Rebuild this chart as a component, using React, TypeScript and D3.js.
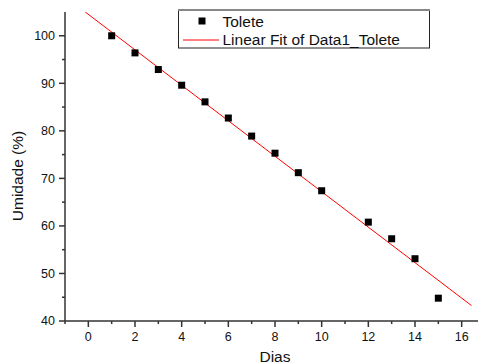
import * as d3 from "d3";

const W = 479;
const H = 364;
const MARGIN = { top: 12, right: 1, bottom: 43, left: 65 };

// Tolete drying data
const dias = [1, 2, 3, 4, 5, 6, 7, 8, 9, 10, 12, 13, 14, 15];
const umidade = [100, 96.4, 92.9, 89.6, 86.1, 82.7, 78.9, 75.3, 71.2, 67.4, 60.8, 57.3, 53.1, 44.8];

// Linear fit
const FIT_INTERCEPT = 104.5;
const FIT_SLOPE = -3.73;
const FIT_RANGE = [-0.13, 16.42];

const xMajor = [0, 2, 4, 6, 8, 10, 12, 14, 16];
const xMinor = [-1, 1, 3, 5, 7, 9, 11, 13, 15];
const yMajor = [40, 50, 60, 70, 80, 90, 100];
const yMinor = [45, 55, 65, 75, 85, 95];

const FONT = "'Liberation Sans', Arial, sans-serif";
const AXIS = "#333";

export default function App() {
  const innerW = W - MARGIN.left - MARGIN.right;
  const innerH = H - MARGIN.top - MARGIN.bottom;

  const x = d3.scaleLinear().domain([-1, 16.7]).range([0, innerW]);
  const y = d3.scaleLinear().domain([40, 105]).range([innerH, 0]);

  const fitLine = d3
    .line<number>()
    .x((d) => x(d))
    .y((d) => y(FIT_INTERCEPT + FIT_SLOPE * d));

  return (
    <svg
      width={W}
      height={H}
      style={{ position: "absolute", left: 0, top: 0, background: "#fff" }}
      fontFamily={FONT}
    >
      <g transform={`translate(${MARGIN.left},${MARGIN.top})`}>
        {/* fit line */}
        <path d={fitLine(FIT_RANGE) ?? ""} fill="none" stroke="#ff0000" strokeWidth={1} />

        {/* data points */}
        {dias.map((d, i) => (
          <rect
            key={d}
            x={x(d) - 3.5}
            y={y(umidade[i]) - 3.5}
            width={7}
            height={7}
            fill="#000"
          />
        ))}

        {/* axes */}
        <line x1={0} x2={innerW} y1={innerH} y2={innerH} stroke={AXIS} strokeWidth={1.5} />
        <line x1={0} x2={0} y1={0} y2={innerH} stroke={AXIS} strokeWidth={1.5} />

        {xMajor.map((t) => (
          <g key={`xM${t}`} transform={`translate(${x(t)},${innerH})`}>
            <line y1={0} y2={6} stroke={AXIS} strokeWidth={1.5} />
            <text y={20} textAnchor="middle" fontSize={12.5} fill="#111">
              {t}
            </text>
          </g>
        ))}
        {xMinor.map((t) => (
          <line
            key={`xm${t}`}
            x1={x(t)}
            x2={x(t)}
            y1={innerH}
            y2={innerH + 3}
            stroke={AXIS}
            strokeWidth={1.5}
          />
        ))}

        {yMajor.map((t) => (
          <g key={`yM${t}`} transform={`translate(0,${y(t)})`}>
            <line x1={0} x2={-6} stroke={AXIS} strokeWidth={1.5} />
            <text x={-10} dy="0.35em" textAnchor="end" fontSize={12.5} fill="#111">
              {t}
            </text>
          </g>
        ))}
        {yMinor.map((t) => (
          <line
            key={`ym${t}`}
            x1={0}
            x2={-3}
            y1={y(t)}
            y2={y(t)}
            stroke={AXIS}
            strokeWidth={1.5}
          />
        ))}
      </g>

      {/* axis titles */}
      <text x={275} y={362} textAnchor="middle" fontSize={15.5} fill="#111">
        Dias
      </text>
      <text
        transform="translate(23,176) rotate(-90)"
        textAnchor="middle"
        fontSize={15.5}
        fill="#111"
      >
        Umidade (%)
      </text>

      {/* legend */}
      <g>
        <rect x={178.5} y={10.5} width={251} height={37.5} fill="#fff" stroke="#222" strokeWidth={1} />
        <line x1={178} x2={430} y1={10} y2={10} stroke="#888" strokeWidth={2} />
        <rect x={198.5} y={17.5} width={7} height={7} fill="#000" />
        <text x={222.5} y={26.5} fontSize={15.5} fill="#111">
          Tolete
        </text>
        <line x1={183} x2={219} y1={40} y2={40} stroke="#ff0000" strokeWidth={1} />
        <text x={222.5} y={45} fontSize={15.5} fill="#111">
          Linear Fit of Data1_Tolete
        </text>
      </g>
    </svg>
  );
}
